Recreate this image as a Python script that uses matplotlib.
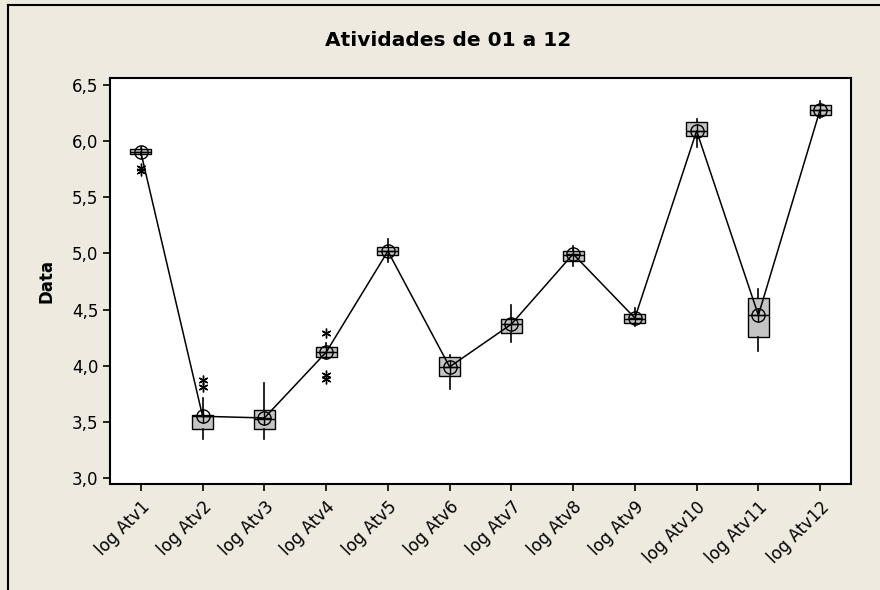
import matplotlib
matplotlib.use("Agg")
import matplotlib.pyplot as plt
from matplotlib.lines import Line2D
from matplotlib.ticker import FuncFormatter

# summary values (log scale)
labels = ["log Atv1", "log Atv2", "log Atv3", "log Atv4", "log Atv5", "log Atv6",
          "log Atv7", "log Atv8", "log Atv9", "log Atv10", "log Atv11", "log Atv12"]
q1 = [5.885, 3.44, 3.44, 4.08, 4.99, 3.91, 4.29, 4.93, 4.38, 6.05, 4.26, 6.23]
med = [5.90, 3.55, 3.53, 4.12, 5.02, 3.99, 4.37, 4.99, 4.42, 6.09, 4.45, 6.28]
q3 = [5.93, 3.56, 3.61, 4.17, 5.06, 4.08, 4.42, 5.02, 4.46, 6.17, 4.60, 6.32]
whislo = [5.88, 3.35, 3.35, 4.07, 4.92, 3.79, 4.21, 4.89, 4.35, 5.95, 4.13, 6.21]
whishi = [5.94, 3.71, 3.85, 4.20, 5.13, 4.10, 4.54, 5.07, 4.51, 6.20, 4.68, 6.36]
means = [5.90, 3.55, 3.535, 4.12, 5.02, 3.99, 4.37, 4.995, 4.425, 6.09, 4.45, 6.28]
outliers = [[5.76, 5.73], [3.87, 3.81], [], [4.29, 3.92, 3.88], [], [], [], [], [], [], [], []]

bg = "#EEEAE0"
fig = plt.figure(figsize=(8.8, 5.9), dpi=100, facecolor=bg)
ax = fig.add_axes([110 / 880, 106 / 590, 741 / 880, 406 / 590])
ax.set_facecolor("white")

pos = list(range(1, len(labels) + 1))
stats = []
for i in range(len(labels)):
    stats.append(dict(q1=q1[i], med=med[i], q3=q3[i], whislo=whislo[i],
                      whishi=whishi[i], fliers=outliers[i]))

ax.bxp(stats, positions=pos, widths=0.34, patch_artist=True, showcaps=False,
       boxprops=dict(facecolor="#C4C4C4", edgecolor="black", linewidth=1.0),
       medianprops=dict(color="black", linewidth=1.0),
       whiskerprops=dict(color="black", linewidth=1.2),
       flierprops=dict(marker=(6, 2, 0), markersize=7, markeredgecolor="black",
                       markeredgewidth=1.0, linestyle="none"))

# mean connect line with circle-cross symbols
ax.plot(pos, means, color="black", linewidth=1.1, zorder=4)
ax.plot(pos, means, "o", markersize=9.5, markerfacecolor="none",
        markeredgecolor="black", markeredgewidth=1.0, zorder=5)
ax.plot(pos, means, "+", markersize=9.5, markeredgecolor="black",
        markeredgewidth=1.0, zorder=5)

ax.set_xlim(0.5, 12.5)
ax.set_ylim(2.947, 6.562)
ax.set_yticks([3.0, 3.5, 4.0, 4.5, 5.0, 5.5, 6.0, 6.5])
ax.yaxis.set_major_formatter(FuncFormatter(lambda v, p: f"{v:.1f}".replace(".", ",")))
ax.set_xticks(pos)
ax.set_xticklabels(labels, rotation=45, ha="right", rotation_mode="anchor")
ax.tick_params(axis="both", direction="out", length=5, width=1.2, labelsize=12, colors="black")
ax.tick_params(axis="x", pad=5)
for s in ax.spines.values():
    s.set_linewidth(1.5)

ax.set_ylabel("Data", fontsize=12, fontweight="bold", labelpad=12)
fig.text(448 / 880, 1 - 40 / 590, "Atividades de 01 a 12", ha="center", va="center",
         fontsize=14.5, fontweight="bold")

# outer frame (top and left edges visible in the reference)
fig.add_artist(Line2D([8 / 880, 1], [1 - 5 / 590, 1 - 5 / 590], color="black", linewidth=1.5,
                      transform=fig.transFigure))
fig.add_artist(Line2D([8 / 880, 8 / 880], [0, 1 - 5 / 590], color="black", linewidth=1.5,
                      transform=fig.transFigure))

fig.savefig("out.png", dpi=100, facecolor=bg)
